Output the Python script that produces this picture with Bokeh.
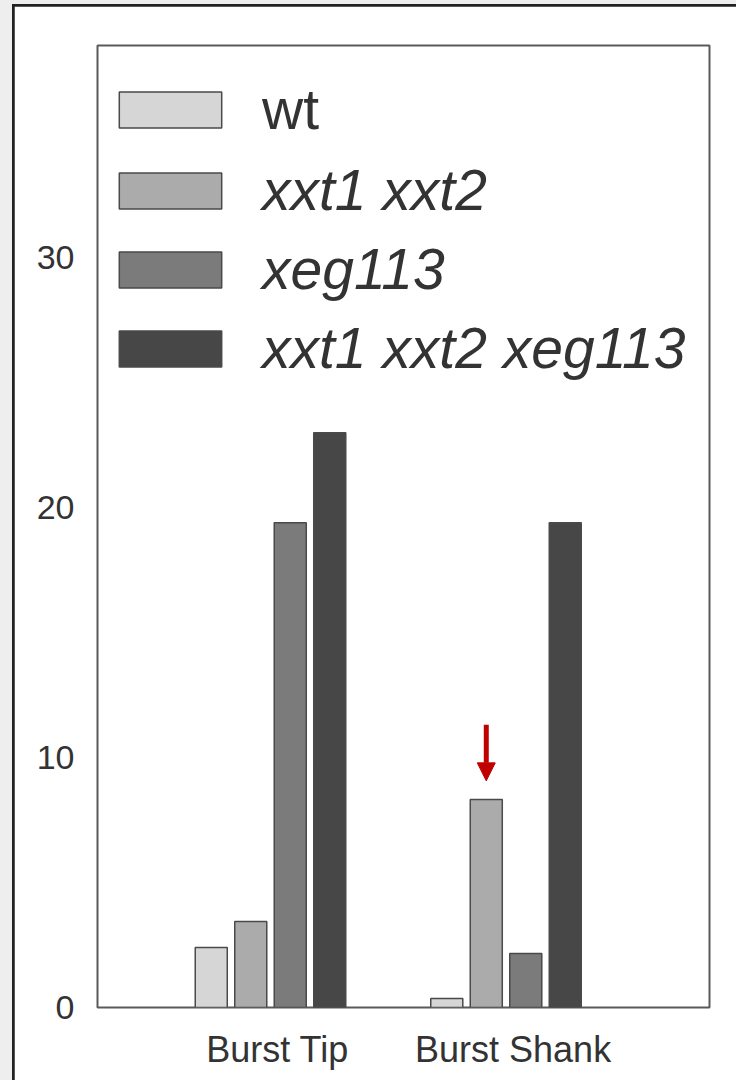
from bokeh.plotting import figure
from bokeh.models import (Range1d, FixedTicker, Legend, LegendItem, Arrow, NormalHead,
                          ColumnDataSource)
from bokeh.layouts import column
from bokeh.embed import file_html
from bokeh.resources import INLINE

# ---------------- data ----------------
categories = ["Burst Tip", "Burst Shank"]
genotypes = ["wt", "xxt1 xxt2", "xeg113", "xxt1 xxt2 xeg113"]
wt = [2.4, 0.36]
xxt1_xxt2 = [3.44, 8.32]
xeg113 = [19.4, 2.16]
xxt1_xxt2_xeg113 = [23.0, 19.4]
series = [wt, xxt1_xxt2, xeg113, xxt1_xxt2_xeg113]
y_ticks = [0, 10, 20, 30]
highlight = (1, 1)  # (category index, genotype index) marked by the red arrow

# ---------------- style ----------------
fills = ["#d6d6d6", "#ababab", "#7b7b7b", "#474747"]
bar_line = "#4a4a4a"
bar_pitch = 0.1677
bar_width = 0.136
group_shift = -0.03   # bars sit slightly left of the category label

p = figure(width=722, height=1074, output_backend="svg", toolbar_location=None,
           x_range=Range1d(-0.7646, 1.834), y_range=Range1d(0, 38.5),
           min_border_left=83, min_border_right=27, min_border_top=39, min_border_bottom=73)
p.margin = (2, 0, 0, 2)
p.background_fill_color = "white"
p.border_fill_color = "white"
p.outline_line_color = "#5a5a5a"
p.outline_line_width = 2
p.xgrid.visible = False
p.ygrid.visible = False

renderers = []
for j, (name, vals) in enumerate(zip(genotypes, series)):
    xs = [i + group_shift + (j - 1.5) * bar_pitch for i in range(len(categories))]
    src = ColumnDataSource(dict(x=xs, top=vals))
    r = p.vbar(x="x", top="top", bottom=0, width=bar_width, source=src,
               fill_color=fills[j], line_color=bar_line, line_width=1.5)
    renderers.append(r)

# red arrow above highlighted bar
ci, gi = highlight
ax = ci + group_shift + (gi - 1.5) * bar_pitch
ay = series[gi][ci]
p.add_layout(Arrow(end=NormalHead(size=18, fill_color="#c00000", line_color="#c00000", line_width=1),
                   x_start=ax, y_start=ay + 3.0, x_end=ax, y_end=ay + 0.75,
                   line_color="#c00000", line_width=5))

# axes
p.xaxis.ticker = FixedTicker(ticks=list(range(len(categories))))
p.xaxis.major_label_overrides = {i: c for i, c in enumerate(categories)}
p.yaxis.ticker = FixedTicker(ticks=y_ticks)
for a in (p.xaxis[0], p.yaxis[0]):
    a.axis_line_color = None
    a.major_tick_line_color = None
    a.minor_tick_line_color = None
    a.major_label_text_font = "Liberation Sans"
    a.major_label_text_color = "#333333"
p.xaxis.major_label_text_font_size = "36px"
p.yaxis.major_label_text_font_size = "34px"
p.xaxis.major_label_standoff = 15
p.yaxis.major_label_standoff = 17

# legends (wt upright, mutants italic)
common = dict(glyph_width=128, glyph_height=45, label_text_font_size="57px",
              label_text_font="Liberation Sans", label_text_color="#333333",
              label_standoff=28, padding=0, margin=0, spacing=13, label_height=66,
              border_line_color=None, background_fill_alpha=0)
leg1 = Legend(items=[LegendItem(label=genotypes[0], renderers=[renderers[0]])],
              location=(9, 865), **common)
leg2 = Legend(items=[LegendItem(label=g, renderers=[r]) for g, r in zip(genotypes[1:], renderers[1:])],
              location=(9, 626), label_text_font_style="italic", **common)
p.add_layout(leg1)
p.add_layout(leg2)

inner = column(p, margin=(4, 0, 0, 12), styles={"background-color": "#222222"})
outer = column(inner, styles={"background-color": "#eeeeee"}, margin=0)

open("out.html", "w").write(file_html(outer, INLINE))
